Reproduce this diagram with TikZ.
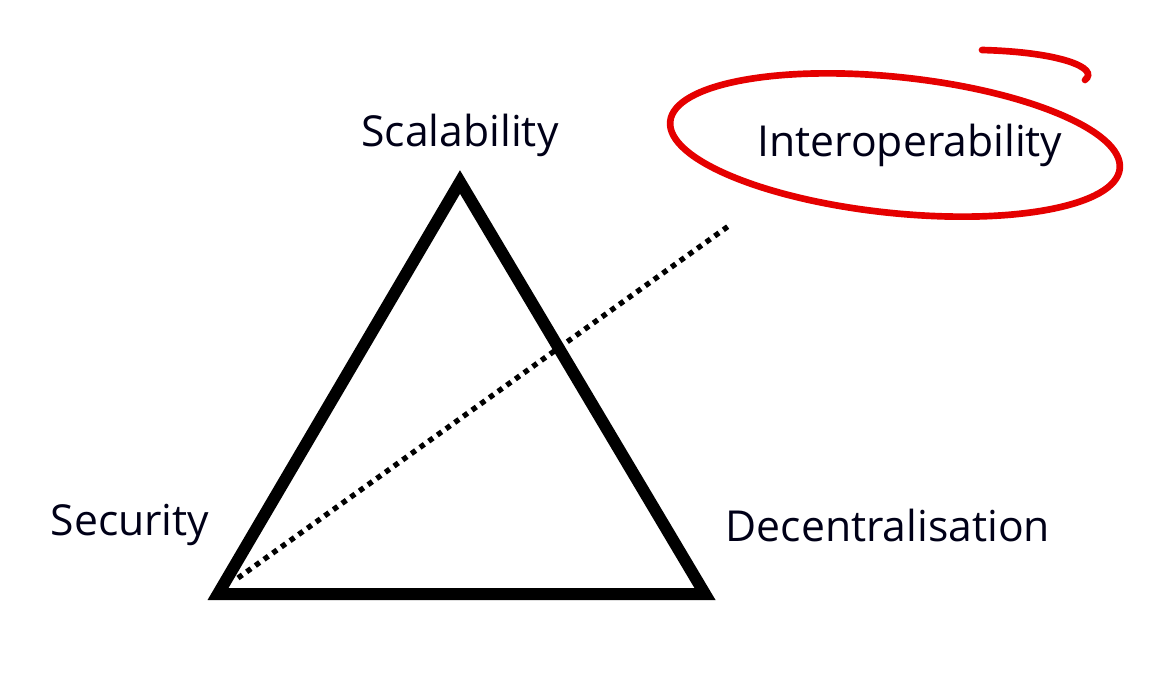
\documentclass[tikz,border=0pt]{standalone}
\usepackage{fontspec}
\setmainfont{Open Sans}
\usetikzlibrary{positioning}
\tikzset{
label text/.style={font=\fontsize{32}{38}\selectfont, text=black!85!blue!60!black}, % corner labels
red ring/.style={draw=red!90!black, line width=5pt, line cap=round},
}
\begin{document}
\begin{tikzpicture}[x=0.75pt, y=-0.75pt]
      \useasboundingbox (0,0) rectangle (1158,672);
      \coordinate (top) at (460,182);
      \coordinate (left) at (218,594);
      \coordinate (right) at (705,594);
      \draw[line width=9pt, line join=miter] (top) -- (right) -- (left) -- cycle;
      \node[label text] (scal) at (460,135) {Scalability};
      \node[label text] (sec) at (130,525) {Security};
      \node[label text] (dec) at (888,525) {Decentralisation};
      \node[label text] (inter) at (910,145) {Interoperability};
      \coordinate (start) at (238,578);
      \coordinate (stop) at (730,225);
      \draw[line width=4pt, dash pattern=on 4pt off 4pt] (start) -- (stop);
      \draw[red ring, rotate around={-6:(895,145)}] (895,145) ellipse [x radius=226, y radius=68];
      \draw[red ring] (982,50) .. controls (1060,52) and (1100,68) .. (1085,80);
    \end{tikzpicture}
\end{document}
